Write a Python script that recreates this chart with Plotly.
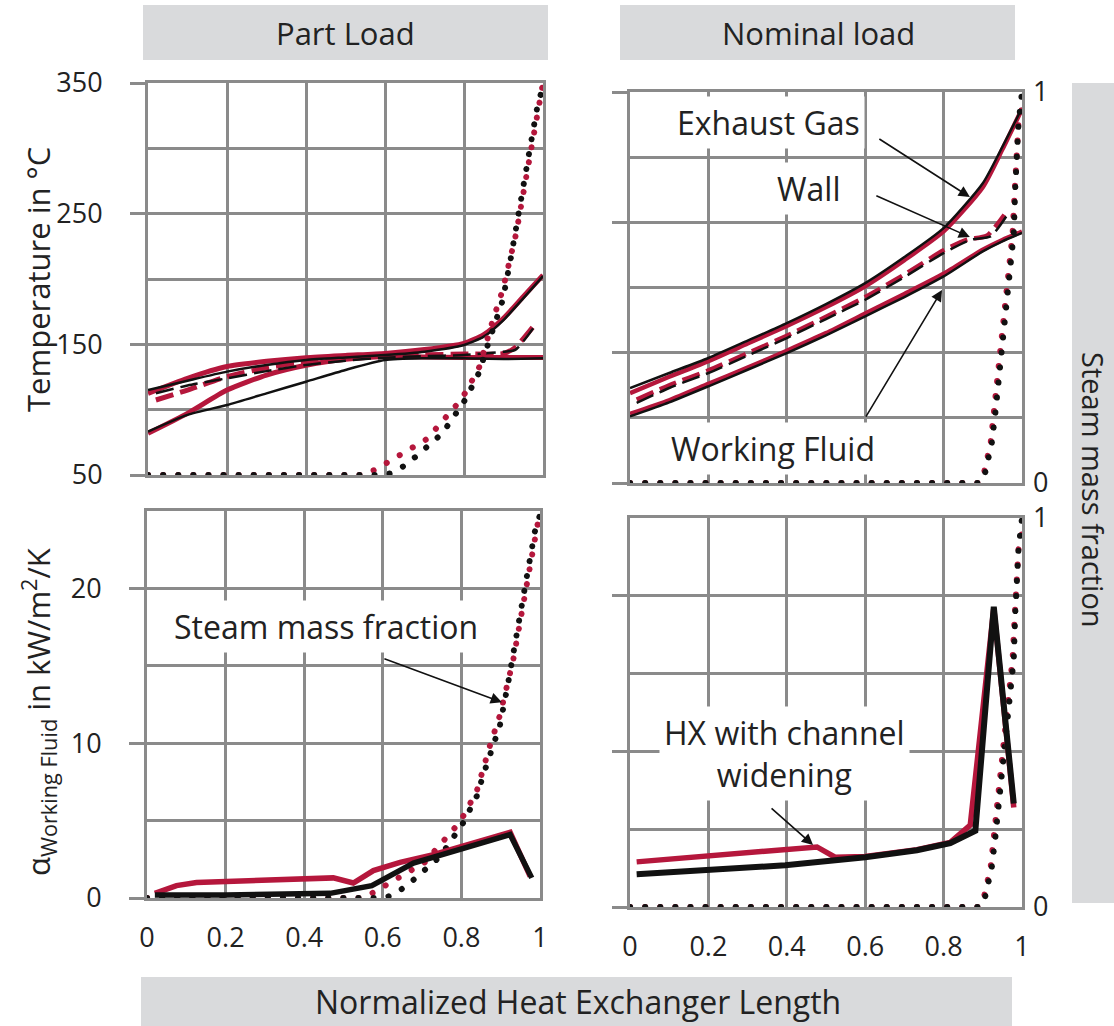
import plotly.graph_objects as go

W, H = 1114, 1026

# ---------------- data ----------------
# Part load: temperatures (°C) along normalized HX length
x_pl_gas = [0, 0.1, 0.2, 0.3, 0.4, 0.5, 0.6, 0.7, 0.8, 0.85, 0.9, 0.95, 1.0]
T_pl_gas_k = [115.0, 122.2, 129.1, 134.2, 138.0, 140.0, 141.8, 144.4, 149.5, 155.9, 168.6, 185.2, 202.3]
T_pl_gas_r = [112.5, 124.0, 133.0, 137.0, 139.8, 141.5, 143.0, 146.0, 150.8, 157.5, 170.0, 186.5, 203.0]
x_pl_wall = [0.02, 0.1, 0.2, 0.3, 0.4, 0.5, 0.6, 0.7, 0.8, 0.9, 0.93, 0.975]
T_pl_wall_k = [112.5, 118.5, 124.0, 129.5, 134.2, 137.5, 139.8, 141.0, 141.8, 144.4, 145.7, 162.2]
T_pl_wall_r = [107.4, 115.0, 125.3, 132.0, 136.7, 139.5, 141.0, 142.0, 142.6, 143.0, 147.7, 163.5]
x_pl_wf = [0, 0.1, 0.2, 0.3, 0.4, 0.5, 0.6, 0.7, 0.8, 0.9, 1.0]
T_pl_wf_k = [83.2, 96.0, 103.6, 112.5, 121.4, 130.4, 138.0, 139.3, 139.3, 138.8, 139.3]
T_pl_wf_r = [81.9, 97.2, 115.0, 126.5, 134.0, 138.5, 140.6, 140.3, 140.0, 140.0, 140.0]

# Part load: steam mass fraction
x_pl_steam_k = [0, 0.58, 0.614, 0.648, 0.678, 0.708, 0.737, 0.761, 0.784, 0.805, 0.822,
                0.839, 0.856, 0.877, 0.898, 0.919, 0.941, 0.966, 0.987, 1.0]
f_pl_steam_k = [0, 0, 0.004, 0.023, 0.047, 0.072, 0.099, 0.129, 0.161, 0.195, 0.229,
                0.263, 0.319, 0.387, 0.446, 0.556, 0.675, 0.828, 0.947, 0.99]
x_pl_steam_r = [0, 0.542, 0.576, 0.61, 0.644, 0.674, 0.708, 0.733, 0.759, 0.784, 0.805,
                0.822, 0.839, 0.873, 0.898, 0.932, 0.966, 1.0]
f_pl_steam_r = [0, 0, 0.014, 0.034, 0.051, 0.072, 0.093, 0.123, 0.153, 0.182, 0.212,
                0.242, 0.276, 0.395, 0.472, 0.616, 0.811, 1.0]

# Part load: heat transfer coefficient (kW/m²/K)
x_pl_alpha_k = [0.02, 0.2, 0.466, 0.572, 0.678, 0.796, 0.924, 0.979]
a_pl_alpha_k = [0.2, 0.2, 0.3, 0.8, 2.26, 3.1, 4.1, 1.3]
x_pl_alpha_r = [0.02, 0.075, 0.126, 0.474, 0.525, 0.576, 0.644, 0.729, 0.924, 0.975]
a_pl_alpha_r = [0.3, 0.8, 1.0, 1.3, 0.97, 1.77, 2.3, 2.8, 4.24, 1.4]

# Nominal load: temperatures (°C)
x_nl = [0, 0.1, 0.2, 0.3, 0.4, 0.5, 0.6, 0.7, 0.8, 0.9, 0.95, 1.0]
T_nl_gas_k = [122.9, 134.4, 145.9, 159.2, 172.7, 187.3, 203.4, 223.4, 245.6, 280.0, 308.0, 337.7]
T_nl_gas_r = [119.0, 131.5, 143.5, 157.0, 170.5, 185.0, 201.0, 221.0, 243.0, 277.0, 306.0, 337.0]
T_nl_wf_k = [101.1, 111.9, 124.2, 136.9, 149.7, 163.3, 177.9, 192.7, 208.5, 227.7, 235.4, 241.8]
T_nl_wf_r = [103.0, 113.5, 126.0, 138.5, 151.5, 165.0, 180.0, 195.0, 210.5, 229.0, 236.5, 243.0]
x_nl_wall_k = [0.017, 0.1, 0.2, 0.3, 0.4, 0.5, 0.6, 0.7, 0.8, 0.87, 0.92, 0.96]
T_nl_wall_k = [111.4, 122.9, 134.4, 147.7, 161.2, 175.8, 190.6, 208.0, 226.4, 236.7, 239.2, 254.6]
x_nl_wall_r = [0.017, 0.1, 0.2, 0.3, 0.4, 0.5, 0.6, 0.7, 0.8, 0.86, 0.91, 0.955]
T_nl_wall_r = [114.0, 125.0, 136.4, 149.5, 163.0, 177.5, 192.7, 210.0, 228.5, 236.7, 239.7, 255.8]

# Nominal load: steam mass fraction
x_nl_steam_k = [0, 0.894, 0.906, 0.915, 0.923, 0.932, 0.94, 0.949, 0.957, 0.966, 0.974,
                0.979, 0.983, 0.987, 0.991, 1.0]
f_nl_steam_k = [0, 0, 0.026, 0.064, 0.102, 0.179, 0.255, 0.332, 0.409, 0.485, 0.562,
                0.638, 0.757, 0.834, 0.919, 1.0]
x_nl_steam_r = [0, 0.89, 0.903, 0.912, 0.92, 0.928, 0.936, 0.945, 0.953, 0.962, 0.97,
                0.976, 0.982, 0.987, 0.991, 1.0]
f_nl_steam_r = [0, 0, 0.026, 0.064, 0.102, 0.179, 0.255, 0.332, 0.409, 0.485, 0.562,
                0.638, 0.757, 0.834, 0.919, 0.96]

# Nominal load: heat transfer coefficient
x_nl_alpha_k = [0.017, 0.2, 0.396, 0.6, 0.732, 0.817, 0.881, 0.928, 0.979]
a_nl_alpha_k = [2.1, 2.4, 2.68, 3.2, 3.65, 4.1, 4.9, 19.3, 6.65]
x_nl_alpha_r = [0.017, 0.477, 0.523, 0.6, 0.732, 0.817, 0.868, 0.928, 0.979]
a_nl_alpha_r = [2.9, 3.86, 3.2, 3.25, 3.68, 4.15, 5.26, 19.2, 6.4]

x_ticks = [0, 0.2, 0.4, 0.6, 0.8, 1]
x_ticklabels = ["0", "0.2", "0.4", "0.6", "0.8", "1"]

# ---------------- style ----------------
RED = "#B5173C"
BLK = "#111111"
GRID = "#8a8a8a"
BOXGRAY = "#D9DADC"
FONT = "Open Sans"
TXT = "#222222"


def px(x):
    return x / W


def py(y):
    return 1 - y / H


fig = go.Figure()


def line(x, y, xa, ya, color, width, dash="solid"):
    fig.add_trace(go.Scatter(x=x, y=y, xaxis=xa, yaxis=ya, mode="lines",
                             line=dict(color=color, width=width, dash=dash, shape="spline", smoothing=0.6),
                             hoverinfo="skip", showlegend=False))


def linel(x, y, xa, ya, color, width, dash="solid"):
    fig.add_trace(go.Scatter(x=x, y=y, xaxis=xa, yaxis=ya, mode="lines",
                             line=dict(color=color, width=width, dash=dash),
                             hoverinfo="skip", showlegend=False))


DASH = "18px,7px"
DOT = "5px,10px"   # turned into round dots by the post script below
DOTW = 6

# Top-left: part load temperatures
line(x_pl_wf, T_pl_wf_r, "x", "y", RED, 5)
line(x_pl_wall, T_pl_wall_r, "x", "y", RED, 5, DASH)
line(x_pl_gas, T_pl_gas_r, "x", "y", RED, 5)
line(x_pl_wf, T_pl_wf_k, "x", "y", BLK, 2.5)
line(x_pl_wall, T_pl_wall_k, "x", "y", BLK, 2.5, DASH)
line(x_pl_gas, T_pl_gas_k, "x", "y", BLK, 2.5)
linel(x_pl_steam_r, f_pl_steam_r, "x", "y5", RED, DOTW, DOT)
linel(x_pl_steam_k, f_pl_steam_k, "x", "y5", BLK, DOTW, DOT)

# Top-right: nominal load temperatures
line(x_nl, T_nl_wf_r, "x2", "y2", RED, 4.5)
line(x_nl_wall_r, T_nl_wall_r, "x2", "y2", RED, 4.5, DASH)
line(x_nl, T_nl_gas_r, "x2", "y2", RED, 4.5)
line(x_nl, T_nl_wf_k, "x2", "y2", BLK, 2.5)
line(x_nl_wall_k, T_nl_wall_k, "x2", "y2", BLK, 2.5, DASH)
line(x_nl, T_nl_gas_k, "x2", "y2", BLK, 2.5)
linel(x_nl_steam_r, f_nl_steam_r, "x2", "y6", RED, DOTW, DOT)
linel(x_nl_steam_k, f_nl_steam_k, "x2", "y6", BLK, DOTW, DOT)

# Bottom panels: empty base traces so the base subplots exist
fig.add_trace(go.Scatter(x=[], y=[], xaxis="x3", yaxis="y3", mode="lines", showlegend=False, hoverinfo="skip"))
fig.add_trace(go.Scatter(x=[], y=[], xaxis="x4", yaxis="y4", mode="lines", showlegend=False, hoverinfo="skip"))

# steam mass fraction dots in bottom panels
linel(x_pl_steam_r, f_pl_steam_r, "x3", "y7", RED, DOTW, DOT)
linel(x_pl_steam_k, f_pl_steam_k, "x3", "y7", BLK, DOTW, DOT)
linel(x_nl_steam_r, f_nl_steam_r, "x4", "y8", RED, DOTW, DOT)
linel(x_nl_steam_k, f_nl_steam_k, "x4", "y8", BLK, DOTW, DOT)

# alpha lines on overlay axes so they sit above steam dots
linel(x_pl_alpha_r, a_pl_alpha_r, "x3", "y9", RED, 5.5)
linel(x_pl_alpha_k, a_pl_alpha_k, "x3", "y9", BLK, 5.5)
linel(x_nl_alpha_r, a_nl_alpha_r, "x4", "y10", RED, 5.5)
linel(x_nl_alpha_k, a_nl_alpha_k, "x4", "y10", BLK, 6)

tickfont = dict(family=FONT, size=27, color=TXT)


def xaxis(domain, labels, anchor):
    return dict(domain=domain, range=[0, 1], anchor=anchor, tickvals=x_ticks, ticktext=x_ticklabels,
                showticklabels=labels, ticks="", showgrid=True, gridcolor=GRID, gridwidth=3,
                showline=True, mirror=True, linecolor=GRID, linewidth=3, zeroline=False,
                tickfont=tickfont, ticklabelstandoff=14, fixedrange=True, automargin=False)


def yaxis(domain, rng, tick0, dtick, minor, labels, anchor):
    return dict(domain=domain, range=rng, anchor=anchor, tick0=tick0, dtick=dtick,
                showticklabels=labels, ticks="outside", ticklen=15, tickwidth=3, tickcolor=GRID,
                showgrid=True, gridcolor=GRID, gridwidth=3,
                minor=dict(dtick=minor, tick0=tick0, showgrid=True, gridcolor=GRID, gridwidth=3, ticks=""),
                showline=True, mirror=True, linecolor=GRID, linewidth=3, zeroline=False,
                tickfont=tickfont, ticklabelstandoff=22, fixedrange=True, automargin=False)


def y2axis(overlay, anchor, labels):
    return dict(overlaying=overlay, anchor=anchor, side="right", range=[0, 1],
                tickvals=[0, 1], ticktext=["0", "1"], showticklabels=labels, ticks="",
                showgrid=False, showline=False, zeroline=False, tickfont=tickfont,
                ticklabelstandoff=10, fixedrange=True, automargin=False)


def yoverlay(overlay, anchor, rng):
    return dict(overlaying=overlay, anchor=anchor, range=rng, showticklabels=False, ticks="",
                showgrid=False, showline=False, zeroline=False, fixedrange=True, automargin=False)


fig.update_layout(
    width=W, height=H, margin=dict(l=0, r=0, t=0, b=0),
    paper_bgcolor="white", plot_bgcolor="rgba(0,0,0,0)",
    font=dict(family=FONT, color=TXT),
    xaxis=xaxis([px(148), px(543)], False, "y"),
    yaxis=yaxis([py(475), py(83)], [50, 350], 50, 100, 50, True, "x"),
    xaxis2=xaxis([px(630), px(1022)], False, "y2"),
    yaxis2=yaxis([py(483), py(92)], [50, 350], 50, 100, 50, False, "x2"),
    xaxis3=xaxis([px(147), px(540)], True, "y3"),
    yaxis3=yaxis([py(898), py(511)], [0, 25], 0, 10, 5, True, "x3"),
    xaxis4=xaxis([px(630), px(1022)], True, "y4"),
    yaxis4=yaxis([py(907), py(518)], [0, 25], 0, 10, 5, False, "x4"),
    yaxis5=y2axis("y", "x", False),
    yaxis6=y2axis("y2", "x2", True),
    yaxis7=y2axis("y3", "x3", False),
    yaxis8=y2axis("y4", "x4", True),
    yaxis9=yoverlay("y3", "x3", [0, 25]),
    yaxis10=yoverlay("y4", "x4", [0, 25]),
)

# gray header / footer boxes
shapes = []
for (x0, y0, x1, y1) in [(143, 5, 548, 60), (620, 5, 1015, 60), (141, 977, 1012, 1030), (1072, 83, 1114, 903)]:
    shapes.append(dict(type="rect", xref="paper", yref="paper", x0=px(x0), x1=px(x1),
                       y0=py(y1), y1=py(y0), fillcolor=BOXGRAY, line=dict(width=0), layer="below"))
fig.update_layout(shapes=shapes)

ann = []


def text(s, x, y, size=31, angle=0, bg=None):
    d = dict(text=s, x=px(x), y=py(y), xref="paper", yref="paper", showarrow=False,
             xanchor="center", yanchor="middle", textangle=angle,
             font=dict(family=FONT, size=size, color=TXT))
    if bg:
        d.update(bgcolor=bg, borderpad=4)
    ann.append(d)


text("Part Load", 345, 33, 31)
text("Nominal load", 818, 33, 31)
text("Normalized Heat Exchanger Length", 578, 1001, 32)
text("Steam mass fraction", 1094, 490, 29, angle=90)
text("Temperature in °C", 38, 280, 31, angle=-90)
text("α<sub>Working Fluid</sub> in kW/m<sup>2</sup>/K", 38, 712, 31, angle=-90)

text("Exhaust Gas", 768, 122, 32, bg="white")
text("Wall", 808, 188, 32, bg="white")
text("Working Fluid", 773, 448, 32, bg="white")
text("Steam mass fraction", 326, 626, 32, bg="white")
text("HX with channel<br>widening", 784, 753, 32, bg="white")


def arrow(xref, yref, x, y, ax, ay):
    ann.append(dict(text="", x=x, y=y, xref=xref, yref=yref, ax=ax, ay=ay, showarrow=True,
                    arrowhead=2, arrowsize=1.4, arrowwidth=1.6, arrowcolor="#111111"))


arrow("x2", "y2", 0.867, 269.4, -92, -59)
arrow("x2", "y2", 0.867, 238.7, -95, -42)
arrow("x2", "y2", 0.796, 198.0, -77, 128)
arrow("x3", "y7", 0.903, 0.506, -119, -44)
arrow("x4", "y4", 0.467, 3.98, -43, -38)

fig.update_layout(annotations=ann)

post = """
(function(){
  var gd = document.getElementById('{plot_id}');
  function fix(){
    gd.querySelectorAll('path.js-line').forEach(function(p){
      var d = (p.style.strokeDasharray || '').replace(/\\s/g, '');
      if (d === '5px,10px') {
        p.style.strokeDasharray = '0.1px,15px';
        p.style.strokeLinecap = 'round';
      }
    });
  }
  try { fix(); } catch (e) {}
})();
"""

fig.write_html("out.html", post_script=post)
